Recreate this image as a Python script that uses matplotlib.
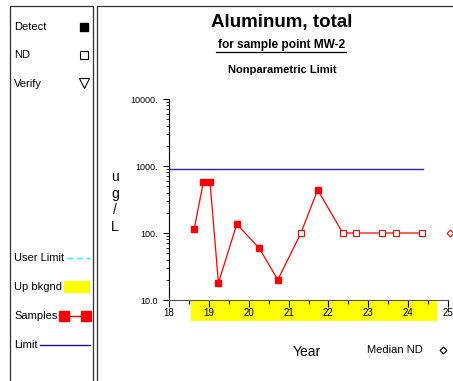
import numpy as np
import matplotlib
matplotlib.use('Agg')
from matplotlib import pyplot as plt
from matplotlib import transforms
from matplotlib.patches import Rectangle
from matplotlib.ticker import FixedLocator, LogLocator, NullFormatter

plt.rcParams['font.family'] = ['Liberation Sans', 'DejaVu Sans']

# sample history for MW-2 (year offset, ug/L)
years = [18.63, 18.86, 19.03, 19.24, 19.70, 20.26, 20.73, 21.31, 21.73,
         22.36, 22.70, 23.35, 23.70, 24.36]
values = [113, 570, 570, 18, 135, 60, 20, 100, 440,
          100, 100, 100, 100, 100]
detected = [True, True, True, True, True, True, True, False, True,
            False, False, False, False, False]

limit_value = 890
limit_end = 24.38
bkgnd_start, bkgnd_end = 18.55, 24.72
median_nd_year = 25.05
median_nd_value = 100

x_ticks = [18, 19, 20, 21, 22, 23, 24, 25]
y_ticks = [10, 100, 1000, 10000]
y_tick_labels = ['10.0', '100.', '1000.', '10000.']

W, H = 453, 381
fig = plt.figure(figsize=(W / 100, H / 100), dpi=100)

# pixel-space overlay for frames, legend panel and titles
bg = fig.add_axes([0, 0, 1, 1])
bg.set_xlim(0, W)
bg.set_ylim(H, 0)
bg.axis('off')

bg.plot([10, 10, 93, 93], [H, 6, 6, H], color='#333333', lw=0.9)
bg.plot([97, 97, W], [H, 6, 6], color='#333333', lw=0.9)

leg_fs = 8
bg.text(14, 27, 'Detect', fontsize=leg_fs, va='center')
bg.plot(84, 27, 's', ms=6, mfc='black', mec='black')
bg.text(14, 55, 'ND', fontsize=leg_fs, va='center')
bg.plot(84, 55, 's', ms=6, mfc='white', mec='black', mew=0.8)
bg.text(14, 84, 'Verify', fontsize=leg_fs, va='center')
bg.plot(84, 83, 'v', ms=6.5, mfc='white', mec='black', mew=0.8)

bg.text(14, 258, 'User Limit', fontsize=leg_fs, va='center')
bg.plot([67, 90], [258, 258], color='cyan', lw=1, ls=(0, (4, 3)))
bg.text(14, 287, 'Up bkgnd', fontsize=leg_fs, va='center')
bg.add_patch(Rectangle((64, 281), 26, 12, facecolor='yellow', edgecolor='none'))
bg.text(14, 316, 'Samples', fontsize=leg_fs, va='center')
bg.plot([64, 86], [316, 316], color='red', lw=1)
bg.plot([64, 86], [316, 316], 's', ms=6.5, mfc='red', mec='red')
bg.text(14, 345, 'Limit', fontsize=leg_fs, va='center')
bg.plot([40, 90], [345, 345], color='#1010c0', lw=1)

bg.text(282, 22, 'Aluminum, total', fontsize=13.5, fontweight='bold',
        ha='center', va='center')
bg.text(282, 45, 'for sample point MW-2', fontsize=8.6, fontweight='bold',
        ha='center', va='center')
bg.plot([216, 346], [51.5, 51.5], color='black', lw=0.9)
bg.text(282, 70, 'Nonparametric Limit', fontsize=8, fontweight='bold',
        ha='center', va='center')

bg.text(115, 202, 'u\ng\n/\nL', fontsize=10, ha='center', va='center',
        linespacing=1.25)
bg.text(307, 352, 'Year', fontsize=10, ha='center', va='center')
bg.text(367, 350, 'Median ND', fontsize=8, ha='left', va='center')
bg.plot(443, 350, 'D', ms=3.5, mfc='white', mec='black', mew=0.8)

# main chart
ax = fig.add_axes([169 / W, 1 - 300 / H, (448 - 169) / W, (300 - 99) / H])
ax.set_yscale('log')
ax.set_xlim(18, 25)
ax.set_ylim(10, 10000)

years_a = np.array(years)
values_a = np.array(values)
det = np.array(detected)

ax.plot(years_a, values_a, color='red', lw=0.9, zorder=3)
ax.plot(years_a[det], values_a[det], 's', ms=5, mfc='red', mec='red', zorder=4)
ax.plot(years_a[~det], values_a[~det], 's', ms=4.5, mfc='white', mec='red',
        mew=0.8, zorder=4)
ax.plot(median_nd_year, median_nd_value, 'D', ms=3.5, mfc='white', mec='red',
        mew=0.8, clip_on=False, zorder=4)
ax.plot([18, limit_end], [limit_value, limit_value], color='#2222dd', lw=1,
        zorder=2)

band_tr = transforms.blended_transform_factory(ax.transData, ax.transAxes)
ax.add_patch(Rectangle((bkgnd_start, -0.104), bkgnd_end - bkgnd_start, 0.1,
                       transform=band_tr, facecolor='yellow',
                       edgecolor='none', clip_on=False, zorder=0))

for s in ['top', 'right']:
    ax.spines[s].set_visible(False)
ax.spines['bottom'].set_color('#555555')
ax.spines['left'].set_color('black')

ax.xaxis.set_major_locator(FixedLocator(x_ticks))
ax.xaxis.set_minor_locator(FixedLocator([t + 0.5 for t in x_ticks[:-1]]))
ax.set_xticklabels([str(t) for t in x_ticks])
ax.tick_params(axis='x', which='major', length=5, width=0.8, pad=0.5,
               labelsize=7, color='black')
ax.tick_params(axis='x', which='minor', length=3, width=0.8)

ax.yaxis.set_major_locator(FixedLocator(y_ticks))
ax.yaxis.set_minor_locator(LogLocator(base=10, subs=np.arange(2, 10)))
ax.yaxis.set_minor_formatter(NullFormatter())
ax.set_yticklabels(y_tick_labels)
ax.tick_params(axis='y', which='major', length=4, width=0.8, pad=4,
               labelsize=6.5)
ax.tick_params(axis='y', which='minor', length=2, width=0.6)

fig.savefig('out.png', dpi=100)
